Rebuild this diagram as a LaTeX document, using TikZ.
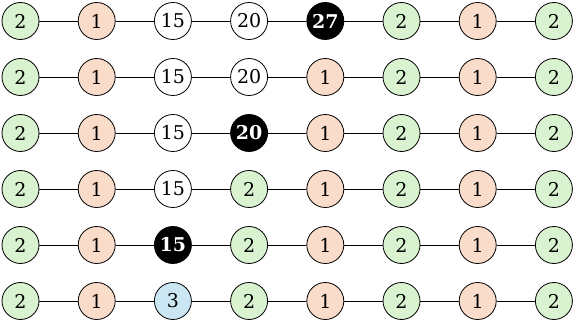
\documentclass[tikz,border=0pt]{standalone}
\usepackage{fontspec}
\setmainfont{DejaVu Serif}
\usepackage{tikz}

\definecolor{greenfill}{RGB}{217,242,208}
\definecolor{peachfill}{RGB}{250,220,203}
\definecolor{bluefill}{RGB}{202,230,243}

\tikzset{
  num/.style={draw,circle,inner sep=0pt,minimum size=37pt,line width=0.8pt,
    font=\fontsize{19}{22}\selectfont},
  gn/.style={num,fill=greenfill},
  pk/.style={num,fill=peachfill},
  wt/.style={num,fill=white},
  bl/.style={num,fill=bluefill},
  bk/.style={num,fill=black,text=white,font=\fontsize{19}{22}\selectfont\bfseries},
}

\begin{document}
\begin{tikzpicture}[x=1pt,y=-1pt]
\useasboundingbox (0,0) rectangle (574,321);
% rows of values, top to bottom
\foreach \r/\vals in {
  0/{2/gn,1/pk,15/wt,20/wt,27/bk,2/gn,1/pk,2/gn},
  1/{2/gn,1/pk,15/wt,20/wt,1/pk,2/gn,1/pk,2/gn},
  2/{2/gn,1/pk,15/wt,20/bk,1/pk,2/gn,1/pk,2/gn},
  3/{2/gn,1/pk,15/wt,2/gn,1/pk,2/gn,1/pk,2/gn},
  4/{2/gn,1/pk,15/bk,2/gn,1/pk,2/gn,1/pk,2/gn},
  5/{2/gn,1/pk,3/bl,2/gn,1/pk,2/gn,1/pk,2/gn}}{
  \foreach \v/\s [count=\c] in \vals{
    \node[\s] (n-\r-\c) at ({20.5+76.2*(\c-1)},{21+56*\r}) {\v};
  }
}
% links between neighbours
\foreach \r in {0,...,5}{
  \foreach \c in {1,...,7}{
    \pgfmathtruncatemacro{\d}{\c+1}
    \draw[line width=0.8pt] (n-\r-\c) -- (n-\r-\d);
  }
}
\end{tikzpicture}
\end{document}
